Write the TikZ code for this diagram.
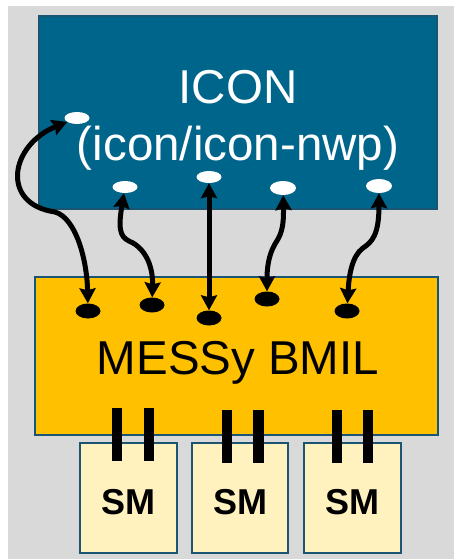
\documentclass[tikz,border=0pt]{standalone}
\usepackage{fontspec}
\setmainfont{Liberation Sans}
\usetikzlibrary{arrows.meta,shapes.geometric}
\definecolor{bggrey}{HTML}{D9D9D9}
\definecolor{iconblue}{HTML}{00658A}
\definecolor{edgeteal}{HTML}{1A5573}
\definecolor{messyor}{HTML}{FFC000}
\definecolor{smyellow}{HTML}{FFF2BF}
\tikzset{
  box/.style={draw=edgeteal,line width=2pt},
  wdot/.style={ellipse,fill=white,minimum width=25pt,minimum height=12pt,inner sep=0pt},
  bdot/.style={ellipse,fill=black,minimum width=25pt,minimum height=15pt,inner sep=0pt},
  link/.style={line width=5pt,{Stealth[length=15pt,width=16pt,inset=2pt]}-{Stealth[length=15pt,width=16pt,inset=2pt]}},
  bar/.style={fill=black},
  bigtxt/.style={font=\fontsize{47.5}{56}\selectfont,anchor=base,inner sep=0pt},
  smtxt/.style={font=\fontsize{36}{40}\selectfont\bfseries,anchor=base,inner sep=0pt},
}
\begin{document}
\begin{tikzpicture}[x=1pt,y=-1pt]
\useasboundingbox (0,0) rectangle (454,559);
\fill[white] (0,0) rectangle (454,559);
\fill[bggrey] (8,6) rectangle (454,559);
% boxes
\draw[box,fill=iconblue] (39,16) rectangle (437,209);
\draw[box,fill=messyor] (35,277) rectangle (438,435);
\draw[box,fill=smyellow] (80,443) rectangle (177,553);
\draw[box,fill=smyellow] (192,443) rectangle (288,553);
\draw[box,fill=smyellow] (304,443) rectangle (401,553);
% bars
\fill[bar] (112,408) rectangle (122,461);
\fill[bar] (144,408) rectangle (154,461);
\fill[bar] (222,410) rectangle (232,463);
\fill[bar] (253,410) rectangle (264,463);
\fill[bar] (332,410) rectangle (342,463);
\fill[bar] (363,410) rectangle (373,463);
% texts
\node[bigtxt,text=white] (t1) at (238,104) {ICON};
\node[bigtxt,text=white] (t2) at (238,160) {(icon/icon-nwp)};
\node[bigtxt] (t3) at (238,374) {MESSy BMIL};
\node[smtxt] (s1) at (128.5,514) {SM};
\node[smtxt] (s2) at (240,514) {SM};
\node[smtxt] (s3) at (352.5,514) {SM};
% dots
\node[wdot] (e0) at (77,118) {};
\node[wdot] (e1) at (125,187) {};
\node[wdot] (e2) at (209,177) {};
\node[wdot,minimum width=26pt,minimum height=14pt] (e3) at (283,188) {};
\node[wdot,minimum width=26pt,minimum height=14pt] (e4) at (379,186) {};
\node[bdot] (b0) at (88,311) {};
\node[bdot] (b1) at (152,305) {};
\node[bdot] (b2) at (209,318) {};
\node[bdot] (b3) at (267,299) {};
\node[bdot] (b4) at (347,311) {};
% links
\draw[link] (b0) .. controls (87,260) and (76,218) .. (55,212) .. controls (0,204) and (10,145) .. (e0);
\draw[link] (e1) .. controls (117,235) and (122,238) .. (133,243) .. controls (148,252) and (153,270) .. (b1);
\draw[link] (e2) -- (b2);
\draw[link] (e3) .. controls (284,230) and (280,236) .. (275,244) .. controls (268,256) and (267,270) .. (b3);
\draw[link] (e4) .. controls (379,235) and (372,242) .. (363,248) .. controls (352,256) and (349,275) .. (b4);
\end{tikzpicture}
\end{document}
